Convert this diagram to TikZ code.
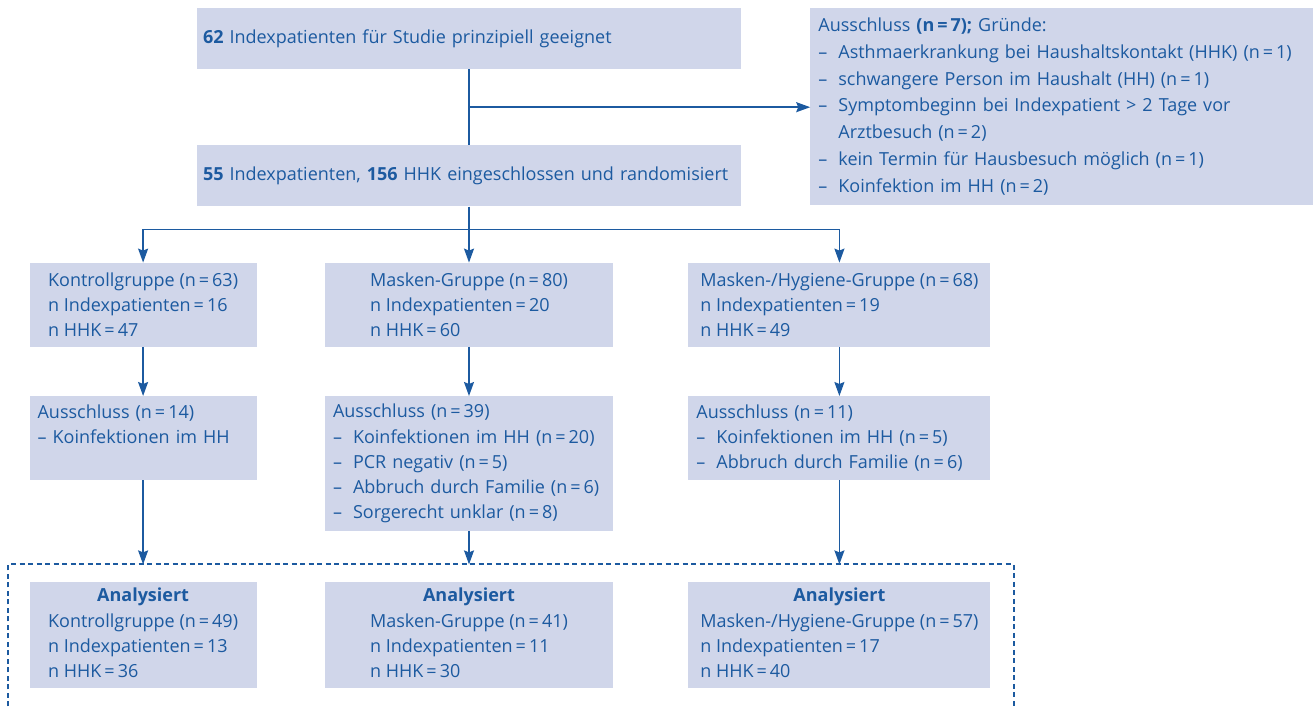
\documentclass[tikz,border=0pt]{standalone}
\usepackage{fontspec}
\setmainfont{Open Sans}
\usetikzlibrary{positioning,arrows.meta}
\definecolor{ink}{HTML}{1C5AA0}
\definecolor{boxbg}{HTML}{D0D6EA}
\newcommand{\ldash}{\makebox[20pt][l]{–}} % dash of a list item
\newcommand{\lskip}{\hspace*{20pt}} % continued list item
\newcommand{\eq}{\,=\,}
\newcommand{\analysiert}[3]{\begin{tabular}{@{}l@{}}\multicolumn{1}{@{}c@{}}{\textbf{Analysiert}}\\ #1\\ #2\\ #3\end{tabular}}
\tikzset{
	box/.style={fill=boxbg, text=ink, inner xsep=0pt, inner ysep=0pt, font=\fontsize{18}{25.3}\selectfont}, % filled box, no frame
	lbox/.style={box, align=left, text width=#1, inner xsep=8pt}, % text flush left
	cbox/.style={box, align=left, minimum width=#1}, % text block centred
	link/.style={draw=ink, line width=1.5pt},
	flow/.style={link, -{Stealth[length=14pt,width=10pt,inset=2pt]}},
	dashframe/.style={draw=ink, line width=1.9pt, dash pattern=on 5pt off 3.5pt},
}

\begin{document}
\begin{tikzpicture}
	\useasboundingbox (0,0) rectangle (1314pt,-708pt);

	\node[lbox=532pt, inner xsep=6pt, minimum height=61pt] (top) at (469pt,-38.5pt) {\textbf{62} Indexpatienten für Studie prinzipiell geeignet};
	\node[lbox=532pt, inner xsep=6pt, minimum height=61pt, below=76pt of top] (mid) {\textbf{55} Indexpatienten, \textbf{156} HHK eingeschlossen und randomisiert};
	\node[lbox=487pt, minimum height=197pt, font=\fontsize{18}{26.8}\selectfont, right=69pt of top.north east, anchor=north west] (excl)
		{Ausschluss \textbf{(n\eq7);} Gründe:\\
		\ldash Asthmaerkrankung bei Haushaltskontakt (HHK) (n\eq1)\\
		\ldash schwangere Person im Haushalt (HH) (n\eq1)\\
		\ldash Symptombeginn bei Indexpatient > 2 Tage vor\\
		\lskip Arztbesuch (n\eq2)\\
		\ldash kein Termin für Hausbesuch möglich (n\eq1)\\
		\ldash Koinfektion im HH (n\eq2)};

	% groups
	\node[cbox=288pt, minimum height=84pt, below=56pt of mid] (grpB) {Masken-Gruppe (n\eq80)\\ n Indexpatienten\eq20\\ n HHK\eq60};
	\node[cbox=227pt, minimum height=84pt, left=68pt of grpB.north west, anchor=north east] (grpA) {Kontrollgruppe (n\eq63)\\ n Indexpatienten\eq16\\ n HHK\eq47};
	\node[cbox=302pt, minimum height=84pt, right=75pt of grpB.north east, anchor=north west] (grpC) {Masken-/Hygiene-Gruppe (n\eq68)\\ n Indexpatienten\eq19\\ n HHK\eq49};

	% exclusions
	\node[lbox=211pt, minimum height=84pt, below=49pt of grpA] (exA) {Ausschluss (n\eq14)\\ – Koinfektionen im HH\\ \vphantom{(}};
	\node[lbox=272pt, minimum height=135pt, below=49pt of grpB] (exB)
		{Ausschluss (n\eq39)\\
		\ldash Koinfektionen im HH (n\eq20)\\
		\ldash PCR negativ (n\eq5)\\
		\ldash Abbruch durch Familie (n\eq6)\\
		\ldash Sorgerecht unklar (n\eq8)};
	\node[lbox=286pt, minimum height=84pt, below=49pt of grpC] (exC)
		{Ausschluss (n\eq11)\\
		\ldash Koinfektionen im HH (n\eq5)\\
		\ldash Abbruch durch Familie (n\eq6)};

	% analysed
	\node[cbox=288pt, minimum height=106pt, below=50pt of exB] (anB) {\analysiert{Masken-Gruppe (n\eq41)}{n Indexpatienten\eq11}{n HHK\eq30}};
	\node[cbox=227pt, minimum height=106pt, left=68pt of anB.north west, anchor=north east] (anA) {\analysiert{Kontrollgruppe (n\eq49)}{n Indexpatienten\eq13}{n HHK\eq36}};
	\node[cbox=302pt, minimum height=106pt, right=75pt of anB.north east, anchor=north west] (anC) {\analysiert{Masken-/Hygiene-Gruppe (n\eq57)}{n Indexpatienten\eq17}{n HHK\eq40}};

	\coordinate[above left=17pt and 21pt of anA.north west] (frNW);
	\coordinate[below right=44pt and 23pt of anC.south east] (frSE);
	\draw[dashframe] (frNW |- frSE) -- (frNW) -- (frNW -| frSE) -- (frSE);

	% connectors
	\coordinate[below=38pt of top.south] (split);
	\coordinate[below=23pt of mid.south] (fork);
	\draw[link] (top) -- (mid);
	\draw[flow] (split) -- (split -| excl.west);
	\draw[link] (mid) -- (fork);
	\draw[flow] (fork) -| (grpA.north);
	\draw[flow] (fork) -- (grpB.north);
	\draw[flow] (fork) -| (grpC.north);
	\draw[flow] (grpA) -- (exA);
	\draw[flow] (grpB) -- (exB);
	\draw[flow] (grpC) -- (exC);
	\draw[flow] (exA) -- (exA |- frNW);
	\draw[flow] (exB) -- (exB |- frNW);
	\draw[flow] (exC) -- (exC |- frNW);
\end{tikzpicture}
\end{document}
